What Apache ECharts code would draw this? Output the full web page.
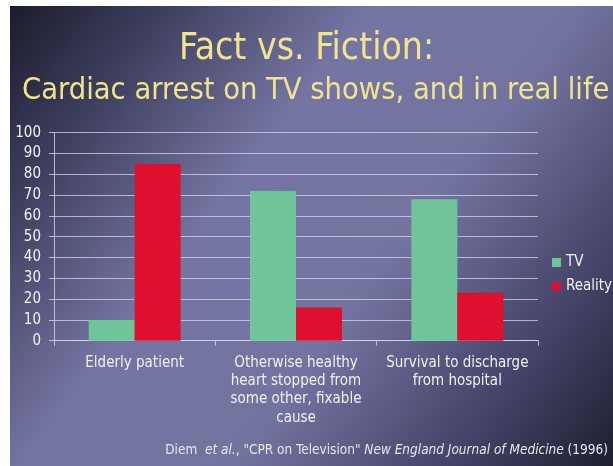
<!DOCTYPE html>
<html><head><meta charset="utf-8">
<script src="https://cdn.jsdelivr.net/npm/echarts@6/dist/echarts.min.js"></script>
<style>html,body{margin:0;padding:0;background:#fff}#c{width:613px;height:466px}</style>
</head><body><div id="c"></div>
<script>
var categories = ['Elderly patient', 'Otherwise healthy\nheart stopped from\nsome other, fixable\ncause', 'Survival to discharge\nfrom hospital'];
var tvValues = [10, 72, 68];
var realityValues = [85, 16, 23];
var seriesNames = ['TV', 'Reality'];
var FONT = '"DejaVu Sans Condensed", "DejaVu Sans", sans-serif';
var chart = echarts.init(document.getElementById('c'));
chart.setOption({
  animation: false,
  backgroundColor: '#ffffff',
  graphic: [{
    type: 'rect', z: -10, silent: true,
    shape: { x: 10, y: 6, width: 603, height: 460 },
    style: { fill: new echarts.graphic.LinearGradient(0, 0, 1, 1, [
      { offset: 0, color: '#1b1c2c' },
      { offset: 0.15, color: '#3b3c5a' },
      { offset: 0.38, color: '#7575a3' },
      { offset: 0.6, color: '#7373a0' },
      { offset: 0.82, color: '#45456a' },
      { offset: 1, color: '#1e1e30' }
    ]) }
  }, {
    type: 'text', left: 'center', top: 31,
    style: { text: 'Fact vs. Fiction:', fill: '#f0e48e', font: '37px ' + FONT }
  }, {
    type: 'text', left: 22, top: 76,
    style: { text: 'Cardiac arrest on TV shows, and in real life', fill: '#f0e48e', font: '30.5px ' + FONT }
  }, {
    type: 'text', right: 5, top: 443,
    style: {
      text: '{n|Diem  }{i|et al.}{n|, "CPR on Television" }{i|New England Journal of Medicine}{n| (1996)}',
      rich: {
        n: { fill: '#e6e6ee', font: '13.5px ' + FONT },
        i: { fill: '#e6e6ee', font: 'italic 13.5px ' + FONT }
      }
    }
  }],
  legend: {
    orient: 'vertical', left: 552, top: 255, padding: 0,
    itemWidth: 9, itemHeight: 9, itemGap: 9,
    icon: 'rect',
    textStyle: { color: '#f0f0f5', fontSize: 15, fontFamily: FONT },
    data: seriesNames
  },
  grid: { left: 54, right: 75, top: 132.7, bottom: 125.3, containLabel: false },
  xAxis: {
    type: 'category', data: categories,
    axisLine: { lineStyle: { color: 'rgba(215,215,232,0.8)' } },
    axisTick: { show: true, length: 5, lineStyle: { color: 'rgba(215,215,232,0.8)' } },
    axisLabel: { color: '#f0f0f5', fontSize: 15, fontFamily: FONT, lineHeight: 18.3, margin: 13, interval: 0 }
  },
  yAxis: {
    type: 'value', min: 0, max: 100, interval: 10,
    axisLine: { show: true, lineStyle: { color: 'rgba(215,215,232,0.8)' } },
    axisTick: { show: true, length: 5, lineStyle: { color: 'rgba(215,215,232,0.8)' } },
    splitLine: { lineStyle: { color: 'rgba(215,215,232,0.75)' } },
    axisLabel: { color: '#f0f0f5', fontSize: 15, fontFamily: FONT, margin: 13 }
  },
  series: [{
    name: seriesNames[0], type: 'bar', data: tvValues,
    itemStyle: { color: '#70c49a' }, barGap: '0%', barCategoryGap: '43%'
  }, {
    name: seriesNames[1], type: 'bar', data: realityValues,
    itemStyle: { color: '#de0f2f' }, barGap: '0%', barCategoryGap: '43%'
  }]
});
</script></body></html>
